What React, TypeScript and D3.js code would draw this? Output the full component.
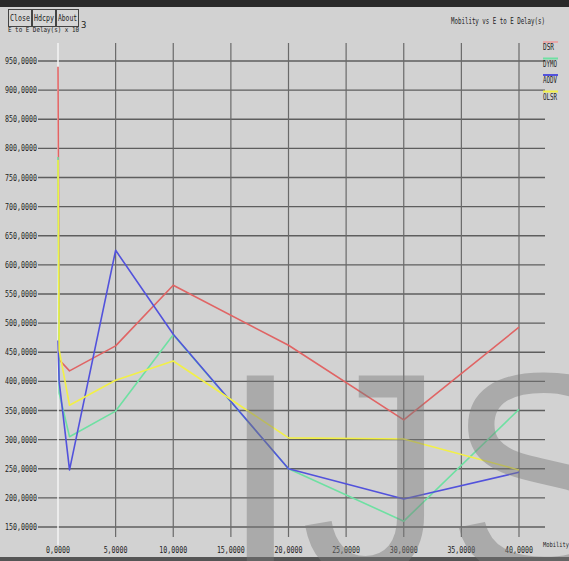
import React from "react";
import * as d3 from "d3";

const W = 569;
const H = 561;

const mobility = [0, 100, 1000, 5000, 10000, 20000, 30000, 40000];
const dsr = [940, 437, 418, 461, 565, 462, 334, 493];
const dymo = [785, 380, 305, 349, 480, 250, 160, 352];
const aodv = [470, 400, 248, 625, 481, 250, 198, 244];
const olsr = [780, 454, 359, 402, 435, 303, 301, 248];

const seriesNames = ["DSR", "DYMO", "AODV", "OLSR"];
const seriesColors = ["#e06464", "#6ee0a2", "#5252dc", "#f2f046"];
const legendColors = ["#e8a8a8", "#6ee0a2", "#5252dc", "#f2f046"];
const seriesData = [dsr, dymo, aodv, olsr];

const xTicks = [0, 5000, 10000, 15000, 20000, 25000, 30000, 35000, 40000];
const yTicks = [150, 200, 250, 300, 350, 400, 450, 500, 550, 600, 650, 700, 750, 800, 850, 900, 950];

export default function App() {
  const x = d3.scaleLinear().domain([0, 40000]).range([58, 519]);
  const y = d3.scaleLinear().domain([150, 950]).range([527, 61]);
  const line = d3
    .line<number>()
    .x((_, i) => x(mobility[i]))
    .y((d) => y(d));

  const font = "'DejaVu Sans Mono', monospace";

  return (
    <div style={{ position: "absolute", left: 0, top: 0 }}>
      <svg width={W} height={H} style={{ display: "block" }}>
        <rect x={0} y={0} width={W} height={H} fill="#d2d2d2" />
        <rect x={0} y={0} width={W} height={7} fill="#2a2a2a" />
        <rect x={0} y={557} width={W} height={4} fill="#555" />

        {/* buttons */}
        {[
          { t: "Close", x0: 8, w: 23 },
          { t: "Hdcpy", x0: 32, w: 23 },
          { t: "About", x0: 56, w: 22 },
        ].map((b) => (
          <g key={b.t}>
            <rect x={b.x0 + 0.5} y={9.5} width={b.w} height={17} fill="#d6d6d6" stroke="#444" strokeWidth={1} />
            <text
              x={b.x0 + 2}
              y={21}
              fontFamily={font}
              fontSize={8}
              fill="#222"
              textLength={b.w - 3}
              lengthAdjust="spacingAndGlyphs"
            >
              {b.t}
            </text>
          </g>
        ))}
        <text x={8} y={32} fontFamily={font} fontSize={7} fill="#222" textLength={71} lengthAdjust="spacingAndGlyphs">
          E to E Delay(s) x 10
        </text>
        <text x={81} y={28} fontFamily={font} fontSize={9} fill="#222">
          3
        </text>

        <text x={451} y={24} fontFamily={font} fontSize={8} fill="#222" textLength={94} lengthAdjust="spacingAndGlyphs">
          Mobility vs E to E Delay(s)
        </text>

        {/* horizontal grid + y labels */}
        {yTicks.map((v) => (
          <g key={"y" + v}>
            <line x1={38} x2={545} y1={y(v)} y2={y(v)} stroke="#5e5e5e" strokeWidth={1.3} />
            <text
              x={5}
              y={y(v) + 3}
              fontFamily={font}
              fontSize={8}
              fill="#222"
              textLength={32}
              lengthAdjust="spacingAndGlyphs"
            >
              {`${v},0000`}
            </text>
          </g>
        ))}

        {/* vertical grid + x labels */}
        {xTicks.map((v) => (
          <g key={"x" + v}>
            <line
              x1={x(v)}
              x2={x(v)}
              y1={43}
              y2={v === 0 ? 545 : 537}
              stroke={v === 0 ? "#f4f4f4" : "#6a6a6a"}
              strokeWidth={v === 0 ? 1.5 : 1.2}
            />
            <text
              x={x(v)}
              y={553}
              textAnchor="middle"
              fontFamily={font}
              fontSize={8}
              fill="#222"
              textLength={v < 10000 ? 24 : 28}
              lengthAdjust="spacingAndGlyphs"
            >
              {`${v / 1000},0000`}
            </text>
          </g>
        ))}
        <text x={543} y={547} fontFamily={font} fontSize={7} fill="#222" textLength={26} lengthAdjust="spacingAndGlyphs">
          Mobility
        </text>

        {/* series */}
        {seriesData.map((s, i) => (
          <path key={seriesNames[i]} d={line(s) || ""} fill="none" stroke={seriesColors[i]} strokeWidth={1.6} strokeLinejoin="round" />
        ))}

        {/* legend */}
        {seriesNames.map((n, i) => (
          <g key={"l" + n}>
            <line x1={543} x2={558} y1={42 + i * 16.5} y2={42 + i * 16.5} stroke={legendColors[i]} strokeWidth={2} />
            <text
              x={543}
              y={50 + i * 16.5}
              fontFamily={font}
              fontSize={8}
              fill="#222"
              textLength={n.length === 3 ? 11 : 14}
              lengthAdjust="spacingAndGlyphs"
            >
              {n}
            </text>
          </g>
        ))}

        {/* watermark */}
        <text x={220} y={575} fontFamily="'Liberation Sans', Arial, sans-serif" fontSize={290} fill="#7a7a7a" opacity={0.45}>
          IJSER
        </text>
      </svg>
    </div>
  );
}
